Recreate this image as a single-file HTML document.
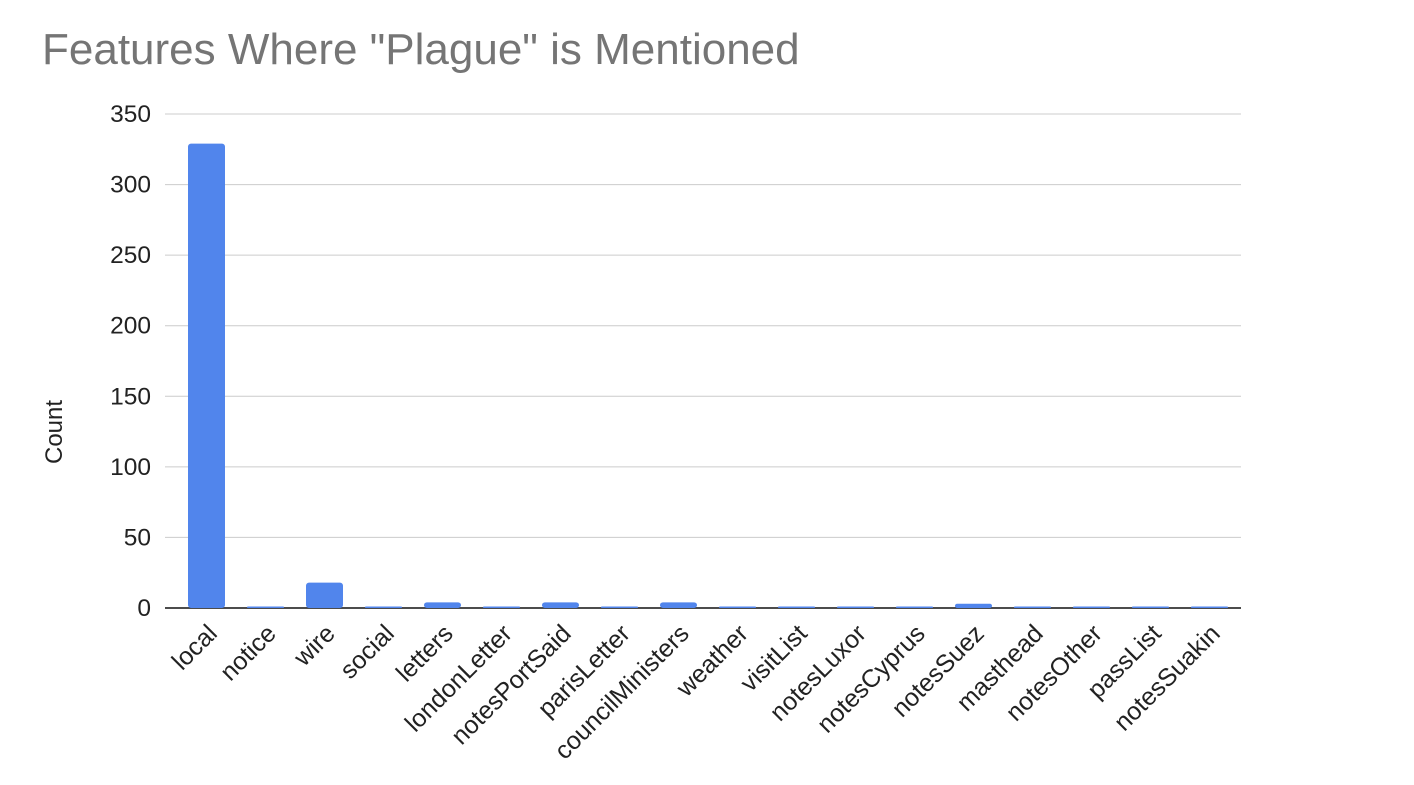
<!DOCTYPE html>
<html><head><meta charset="utf-8"><style>
body{margin:0;background:#fff;font-family:"Liberation Sans",Arial,sans-serif}
</style></head><body>
<svg width="1414" height="780" xmlns="http://www.w3.org/2000/svg">
<text x="42" y="64" font-size="44" fill="#757575">Features Where "Plague" is Mentioned</text>
<text transform="translate(62,432) rotate(-90)" text-anchor="middle" font-size="24" fill="#222">Count</text>
<g id="grid"></g><g id="bars"></g><g id="labels"></g>
</svg>
<script>
const categories=["local","notice","wire","social","letters","londonLetter","notesPortSaid","parisLetter","councilMinisters","weather","visitList","notesLuxor","notesCyprus","notesSuez","masthead","notesOther","passList","notesSuakin"];
const values=[329,1,18,1,4,1,4,1,4,1,1,1,1,3,1,1,1,1];
const yTicks=[0,50,100,150,200,250,300,350];
const NS="http://www.w3.org/2000/svg";
const x0=177,step=59,y0=608,yTop=114,yMax=350;
const y=v=>y0-(v/yMax)*(y0-yTop);
const xc=i=>x0+step*(i+0.5);
function mk(t,a){const e=document.createElementNS(NS,t);for(const k in a)e.setAttribute(k,a[k]);return e;}
const g=document.getElementById('grid'),b=document.getElementById('bars'),l=document.getElementById('labels');
yTicks.forEach(t=>{
 const ln=mk('line',{x1:165,x2:1241,y1:y(t),y2:y(t),stroke:t===0?'#333':'#ccc','stroke-width':t===0?1.5:1});
 
 
 g.appendChild(ln);
 const tx=mk('text',{x:151,y:y(t)+8,'text-anchor':'end','font-size':24.5,fill:'#222'});
 tx.textContent=t;
 
 
 g.appendChild(tx);
});
categories.forEach((c,i)=>{
 const bw=37,h=Math.max(1.5,y0-y(values[i]));
 const r=mk('rect',{x:xc(i)-bw/2,y:y0-h,width:bw,height:h,fill:'#5185ec',rx:Math.min(3,h/2)});
 
 
 b.appendChild(r);
 const tx=mk('text',{transform:`translate(${xc(i)+12},${y0+27}) rotate(-45)`,'text-anchor':'end','font-size':25,fill:'#222'});
 tx.textContent=c;
 
 
 l.appendChild(tx);
});
g.appendChild(mk('line',{x1:165,x2:1241,y1:y0,y2:y0,stroke:'#333','stroke-width':1.5}));
</script>
</body></html>
